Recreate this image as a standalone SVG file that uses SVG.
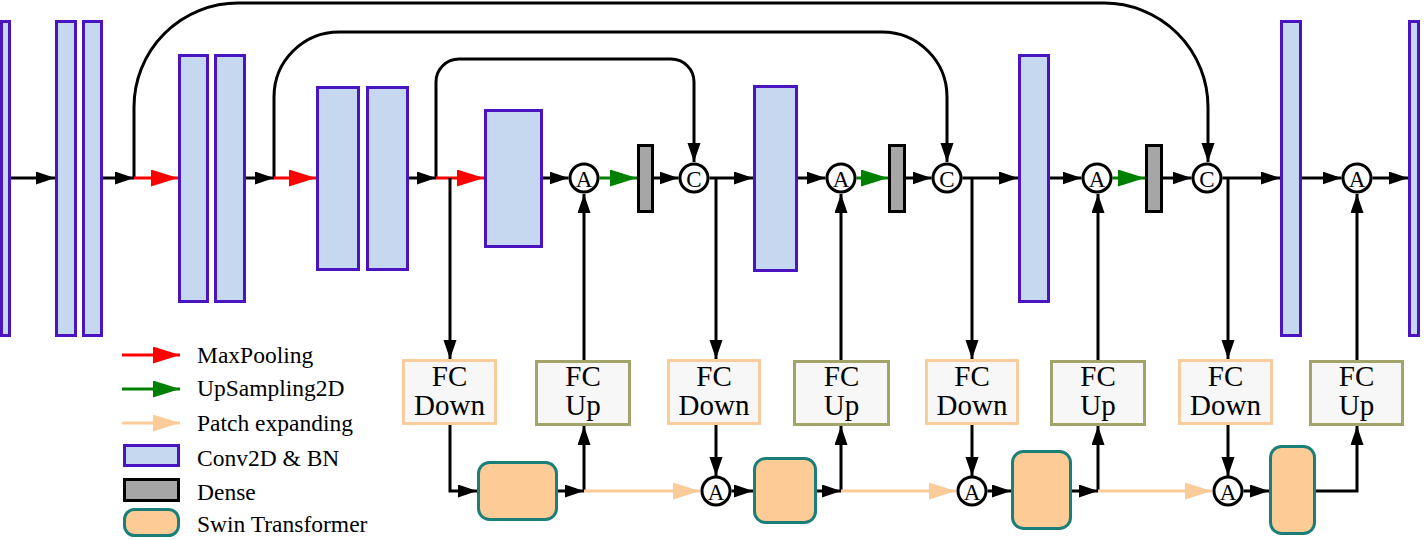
<svg xmlns="http://www.w3.org/2000/svg" width="1424" height="540" viewBox="0 0 1424 540">
<style>
.conv{fill:#C6D8F0;stroke:#4A14C0;stroke-width:3}
.dense{fill:#A6A6A6;stroke:#000;stroke-width:3}
.swin{fill:#FDCB96;stroke:#1A7F78;stroke-width:3}
.fcd{fill:#F7F7F7;stroke:#F9CC9E;stroke-width:3}
.fcu{fill:#F7F7F7;stroke:#A3A46A;stroke-width:3}
.op{fill:#fff;stroke:#000;stroke-width:3}
.l{fill:none;stroke:#000;stroke-width:3}
.red{fill:none;stroke:#FF0000;stroke-width:3}
.grn{fill:none;stroke:#008000;stroke-width:3}
.pch{fill:none;stroke:#FCCB9A;stroke-width:3}
text{fill:#000}
.fc{font-size:29px;text-anchor:middle}
.ot{font-size:23px;text-anchor:middle}
.lg{font-size:23.5px}
</style>
<defs>
<marker id="ab" markerUnits="userSpaceOnUse" markerWidth="20" markerHeight="14" refX="19" refY="6.5" orient="auto"><path d="M0,0 L19,6.5 L0,13 z" fill="#000"/></marker>
<marker id="ar" markerUnits="userSpaceOnUse" markerWidth="28" markerHeight="18" refX="27" refY="8.5" orient="auto"><path d="M0,0 L27,8.5 L0,17 z" fill="#FF0000"/></marker>
<marker id="ag" markerUnits="userSpaceOnUse" markerWidth="28" markerHeight="18" refX="27" refY="8.5" orient="auto"><path d="M0,0 L27,8.5 L0,17 z" fill="#008000"/></marker>
<marker id="ap" markerUnits="userSpaceOnUse" markerWidth="28" markerHeight="18" refX="27" refY="8.5" orient="auto"><path d="M0,0 L27,8.5 L0,17 z" fill="#FCCB9A"/></marker>
</defs>

<g id="connectors">
<path class="l" d="M134,178 V107 A104,104 0 0 1 238,3 H1104 A104,104 0 0 1 1208,107 V162" marker-end="url(#ab)"/>
<path class="l" d="M274,178 V97 A65,65 0 0 1 339,32 H882 A65,65 0 0 1 947,97 V162" marker-end="url(#ab)"/>
<path class="l" d="M436,178 V82 A23,23 0 0 1 459,59 H671 A23,23 0 0 1 694,82 V162" marker-end="url(#ab)"/>
<path class="l" d="M11,178 H55" marker-end="url(#ab)"/>
<path class="l" d="M103,178 H134" marker-end="url(#ab)"/>
<path class="red" d="M134,178 H178" marker-end="url(#ar)"/>
<path class="l" d="M246,178 H274" marker-end="url(#ab)"/>
<path class="red" d="M274,178 H316" marker-end="url(#ar)"/>
<path class="l" d="M409,178 H436" marker-end="url(#ab)"/>
<path class="red" d="M436,178 H484" marker-end="url(#ar)"/>
<path class="l" d="M543,178 H568.5" marker-end="url(#ab)"/>
<path class="grn" d="M599.5,178 H637" marker-end="url(#ag)"/>
<path class="l" d="M654,178 H678.5" marker-end="url(#ab)"/>
<path class="l" d="M709.5,178 H753" marker-end="url(#ab)"/>
<path class="l" d="M798,178 H825.5" marker-end="url(#ab)"/>
<path class="grn" d="M856.5,178 H888" marker-end="url(#ag)"/>
<path class="l" d="M906,178 H931.5" marker-end="url(#ab)"/>
<path class="l" d="M962.5,178 H1018" marker-end="url(#ab)"/>
<path class="l" d="M1050,178 H1081.5" marker-end="url(#ab)"/>
<path class="grn" d="M1112.5,178 H1145" marker-end="url(#ag)"/>
<path class="l" d="M1163,178 H1191.5" marker-end="url(#ab)"/>
<path class="l" d="M1222.5,178 H1280" marker-end="url(#ab)"/>
<path class="l" d="M1302,178 H1341.5" marker-end="url(#ab)"/>
<path class="l" d="M1372.5,178 H1408" marker-end="url(#ab)"/>
<path class="l" d="M450,178 V359" marker-end="url(#ab)"/>
<path class="l" d="M716,178 V359" marker-end="url(#ab)"/>
<path class="l" d="M972,178 V359" marker-end="url(#ab)"/>
<path class="l" d="M1228,178 V359" marker-end="url(#ab)"/>
<path class="l" d="M584,360 V194" marker-end="url(#ab)"/>
<path class="l" d="M841,360 V194" marker-end="url(#ab)"/>
<path class="l" d="M1098,360 V194" marker-end="url(#ab)"/>
<path class="l" d="M1357,360 V194" marker-end="url(#ab)"/>
<path class="l" d="M450,425 V491 H477" marker-end="url(#ab)"/>
<path class="l" d="M558,491 H584" marker-end="url(#ab)"/>
<path class="l" d="M584,491 V426" marker-end="url(#ab)"/>
<path class="pch" d="M584,491 H700" marker-end="url(#ap)"/>
<path class="l" d="M716,425 V476" marker-end="url(#ab)"/>
<path class="l" d="M731.5,491 H753" marker-end="url(#ab)"/>
<path class="l" d="M817,491 H841" marker-end="url(#ab)"/>
<path class="l" d="M841,491 V426" marker-end="url(#ab)"/>
<path class="pch" d="M841,491 H956" marker-end="url(#ap)"/>
<path class="l" d="M972,425 V476" marker-end="url(#ab)"/>
<path class="l" d="M987.5,491 H1011" marker-end="url(#ab)"/>
<path class="l" d="M1072,491 H1098" marker-end="url(#ab)"/>
<path class="l" d="M1098,491 V426" marker-end="url(#ab)"/>
<path class="pch" d="M1098,491 H1212" marker-end="url(#ap)"/>
<path class="l" d="M1228,425 V476" marker-end="url(#ab)"/>
<path class="l" d="M1243.5,491 H1269" marker-end="url(#ab)"/>
<path class="l" d="M1316,491 H1357 V426" marker-end="url(#ab)"/>
</g>

<g id="conv1"><rect class="conv" x="1.5" y="21.5" width="8" height="314"/></g>
<g id="conv2"><rect class="conv" x="56.5" y="21.5" width="19" height="314"/></g>
<g id="conv3"><rect class="conv" x="83.5" y="21.5" width="18" height="314"/></g>
<g id="conv4"><rect class="conv" x="179.5" y="55.5" width="28" height="246"/></g>
<g id="conv5"><rect class="conv" x="215.5" y="55.5" width="29" height="246"/></g>
<g id="conv6"><rect class="conv" x="317.5" y="87.5" width="41" height="182"/></g>
<g id="conv7"><rect class="conv" x="367.5" y="87.5" width="40" height="182"/></g>
<g id="conv8"><rect class="conv" x="485.5" y="110.5" width="56" height="136"/></g>
<g id="conv9"><rect class="conv" x="754.5" y="86.5" width="42" height="184"/></g>
<g id="conv10"><rect class="conv" x="1019.5" y="55.5" width="29" height="246"/></g>
<g id="conv11"><rect class="conv" x="1281.5" y="21.5" width="19" height="314"/></g>
<g id="conv12"><rect class="conv" x="1409.5" y="21.5" width="9" height="314"/></g>

<g id="dense1"><rect class="dense" x="638.5" y="145.5" width="14" height="66"/></g>
<g id="dense2"><rect class="dense" x="889.5" y="145.5" width="15" height="66"/></g>
<g id="dense3"><rect class="dense" x="1146.5" y="145.5" width="15" height="66"/></g>

<g font-family="Liberation Serif, Times New Roman, serif">
<g id="add1"><circle class="op" cx="584" cy="178" r="14"/><text class="ot" x="584" y="187">A</text></g>
<g id="cat1"><circle class="op" cx="694" cy="178" r="14"/><text class="ot" x="694" y="187">C</text></g>
<g id="add2"><circle class="op" cx="841" cy="178" r="14"/><text class="ot" x="841" y="187">A</text></g>
<g id="cat2"><circle class="op" cx="947" cy="178" r="14"/><text class="ot" x="947" y="187">C</text></g>
<g id="add3"><circle class="op" cx="1097" cy="178" r="14"/><text class="ot" x="1097" y="187">A</text></g>
<g id="cat3"><circle class="op" cx="1207" cy="178" r="14"/><text class="ot" x="1207" y="187">C</text></g>
<g id="add4"><circle class="op" cx="1357" cy="178" r="14"/><text class="ot" x="1357" y="187">A</text></g>

<g id="fcdown1"><rect class="fcd" x="403.5" y="360.5" width="92" height="63"/><text class="fc" x="449.5" y="386">FC</text><text class="fc" x="449.5" y="415">Down</text></g>
<g id="fcup1"><rect class="fcu" x="536.5" y="361.5" width="93" height="63"/><text class="fc" x="583" y="386">FC</text><text class="fc" x="583" y="415">Up</text></g>
<g id="fcdown2"><rect class="fcd" x="668.5" y="360.5" width="91" height="63"/><text class="fc" x="714" y="386">FC</text><text class="fc" x="714" y="415">Down</text></g>
<g id="fcup2"><rect class="fcu" x="794.5" y="361.5" width="94" height="63"/><text class="fc" x="841.5" y="386">FC</text><text class="fc" x="841.5" y="415">Up</text></g>
<g id="fcdown3"><rect class="fcd" x="926.5" y="360.5" width="91" height="63"/><text class="fc" x="972" y="386">FC</text><text class="fc" x="972" y="415">Down</text></g>
<g id="fcup3"><rect class="fcu" x="1051.5" y="361.5" width="93" height="63"/><text class="fc" x="1098" y="386">FC</text><text class="fc" x="1098" y="415">Up</text></g>
<g id="fcdown4"><rect class="fcd" x="1179.5" y="360.5" width="92" height="63"/><text class="fc" x="1225.5" y="386">FC</text><text class="fc" x="1225.5" y="415">Down</text></g>
<g id="fcup4"><rect class="fcu" x="1310.5" y="361.5" width="92" height="63"/><text class="fc" x="1356.5" y="386">FC</text><text class="fc" x="1356.5" y="415">Up</text></g>

<g id="swin1"><rect class="swin" x="478.5" y="462.5" width="78" height="57" rx="11"/></g>
<g id="swin2"><rect class="swin" x="754.5" y="458.5" width="61" height="64" rx="11"/></g>
<g id="swin3"><rect class="swin" x="1012.5" y="451.5" width="58" height="77" rx="11"/></g>
<g id="swin4"><rect class="swin" x="1270.5" y="446.5" width="44" height="87" rx="11"/></g>

<g id="add5"><circle class="op" cx="716" cy="491" r="14"/><text class="ot" x="716" y="500">A</text></g>
<g id="add6"><circle class="op" cx="972" cy="491" r="14"/><text class="ot" x="972" y="500">A</text></g>
<g id="add7"><circle class="op" cx="1228" cy="491" r="14"/><text class="ot" x="1228" y="500">A</text></g>

<g id="legend">
<path class="red" d="M122,355 H180" marker-end="url(#ar)"/>
<path class="grn" d="M122,389 H180" marker-end="url(#ag)"/>
<path class="pch" d="M122,423 H180" marker-end="url(#ap)"/>
<rect class="conv" x="124.5" y="445.5" width="54" height="20"/>
<rect class="dense" x="124.5" y="479.5" width="54" height="21"/>
<rect class="swin" x="124.5" y="509.5" width="54" height="26" rx="10"/>
<text class="lg" x="197" y="363">MaxPooling</text>
<text class="lg" x="197" y="396">UpSampling2D</text>
<text class="lg" x="197" y="431">Patch expanding</text>
<text class="lg" x="197" y="466">Conv2D &amp; BN</text>
<text class="lg" x="197" y="500">Dense</text>
<text class="lg" x="197" y="532">Swin Transformer</text>
</g>
</g>
</svg>
